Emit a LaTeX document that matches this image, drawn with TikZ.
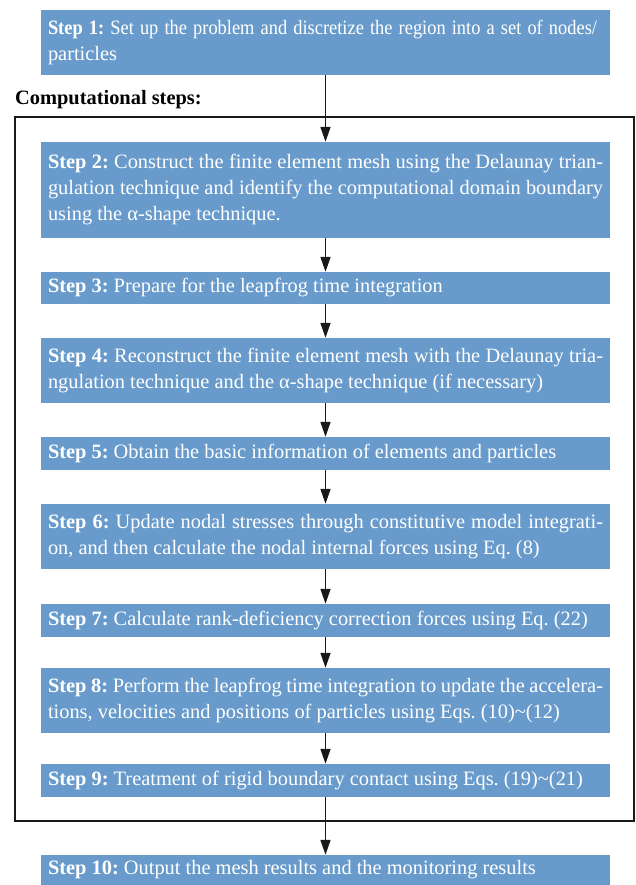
\documentclass[tikz,border=0pt]{standalone}
\usepackage{fontspec}
\usepackage{graphicx}
\setmainfont{Liberation Serif}
\frenchspacing
\usetikzlibrary{arrows.meta}
\definecolor{stepblue}{RGB}{104,155,203}
\tikzset{
  stepbox/.style={fill=stepblue, text=white, minimum width=569pt, text width=555pt,
    inner xsep=7pt, inner ysep=0pt, align=justify, anchor=center,
    font=\fontsize{20.4}{26}\selectfont},
  flow/.style={line width=1.6pt, draw=black!90, -{Triangle[length=15pt,width=10pt]}},
  frame/.style={line width=1.6pt, draw=black!90}
}
\begin{document}
\begin{tikzpicture}[x=1pt,y=-1pt]
\useasboundingbox (0,0) rectangle (635,885);
\draw[frame] (15,117) rectangle (634,821);
\node[anchor=west, font=\fontsize{20.4}{24}\selectfont\bfseries, inner sep=0pt] (title) at (15,100) {Computational steps:};
\node[stepbox, minimum height=65pt, align=left] (s1) at (325.5,42.5) {\resizebox{549pt}{\height}{\textbf{Step 1:} Set up the problem and discretize the region into a set of nodes/}\\particles};
\node[stepbox, minimum height=96pt] (s2) at (325.5,190) {\textbf{Step 2:} Construct the finite element mesh using the Delaunay trian-\linebreak gulation technique and identify the computational domain boundary\linebreak using the α-shape technique.};
\node[stepbox, minimum height=32pt] (s3) at (325.5,288) {\textbf{Step 3:} Prepare for the leapfrog time integration};
\node[stepbox, minimum height=65pt] (s4) at (325.5,370.5) {\textbf{Step 4:} Reconstruct the finite element mesh with the Delaunay tria-\linebreak ngulation technique and the α-shape technique (if necessary)};
\node[stepbox, minimum height=33pt] (s5) at (325.5,453.5) {\textbf{Step 5:} Obtain the basic information of elements and particles};
\node[stepbox, minimum height=65pt] (s6) at (325.5,536.5) {\textbf{Step 6:} Update nodal stresses through constitutive model integrati-\linebreak on, and then calculate the nodal internal forces using Eq. (8)};
\node[stepbox, minimum height=33pt] (s7) at (325.5,620.5) {\textbf{Step 7:} Calculate rank-deficiency correction forces using Eq. (22)};
\node[stepbox, minimum height=65pt] (s8) at (325.5,700.5) {\textbf{Step 8:} Perform the leapfrog time integration to update the accelera-\linebreak tions, velocities and positions of particles using Eqs. (10)\textasciitilde(12)};
\node[stepbox, minimum height=33pt] (s9) at (325.5,780.5) {\textbf{Step 9:} Treatment of rigid boundary contact using Eqs. (19)\textasciitilde(21)};
\node[stepbox, minimum height=30pt] (s10) at (325.5,870) {\textbf{Step 10:} Output the mesh results and the monitoring results};
\foreach \a/\b in {s1/s2,s2/s3,s3/s4,s4/s5,s5/s6,s6/s7,s7/s8,s8/s9,s9/s10}
  \draw[flow] (\a) -- (\b);
\end{tikzpicture}
\end{document}
